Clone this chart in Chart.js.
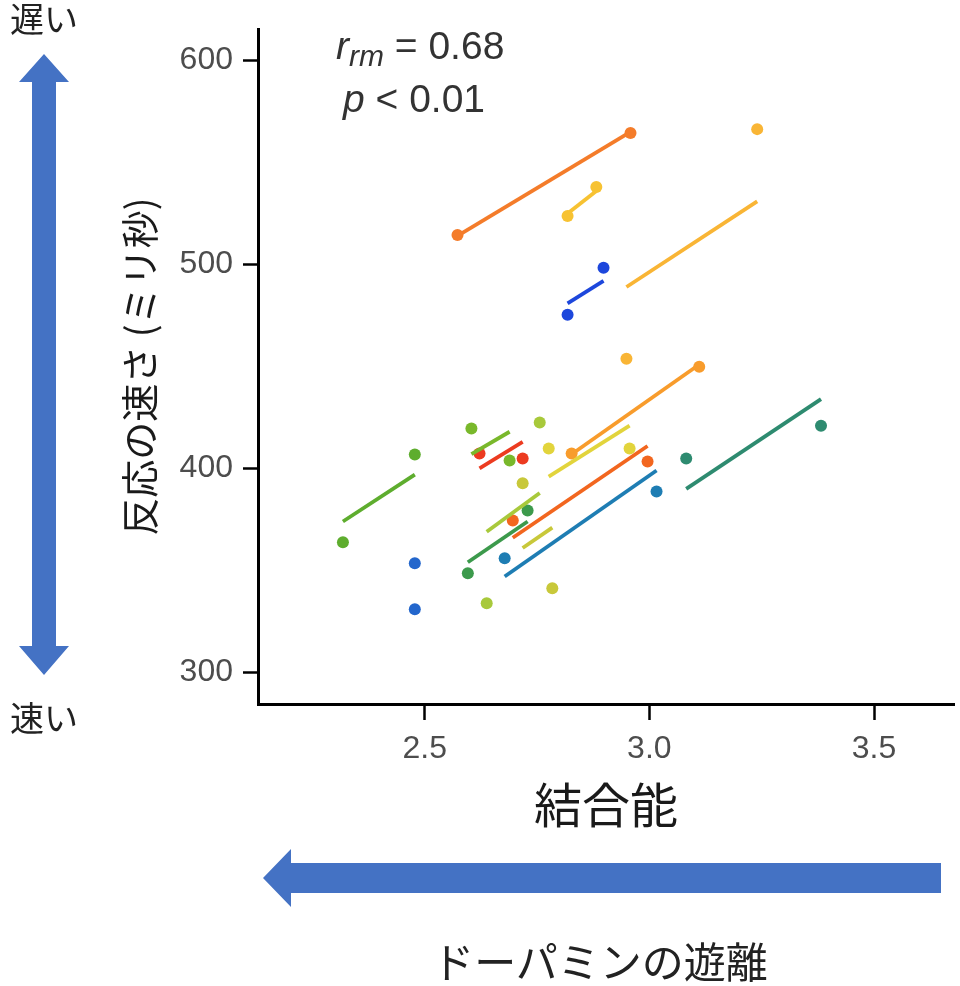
<!DOCTYPE html>
<html><head><meta charset="utf-8">
<script src="https://cdn.jsdelivr.net/npm/chart.js@4.4.1/dist/chart.umd.min.js"></script>
<style>
html,body{margin:0;padding:0;background:#fff;}
#wrap{position:relative;width:960px;height:986px;overflow:hidden;}
#c{position:absolute;left:0;top:0;}
#ov{position:absolute;left:0;top:0;}
</style></head><body>
<div id="wrap">
<canvas id="c" width="960" height="986"></canvas>
<svg id="ov" width="960" height="986" xmlns="http://www.w3.org/2000/svg">
  <polygon fill="#4472C4" points="44,54 69,82 56,82 56,646 69,646 44,675 19,646 32,646 32,82 19,82"/>
  <polygon fill="#4472C4" points="263,878 291,849 291,863 941,863 941,893 291,893 291,907"/>
  <text x="10" y="32" font-family="Noto Sans CJK JP" font-size="34" fill="#222">遅い</text>
  <text x="10" y="731" font-family="Noto Sans CJK JP" font-size="34" fill="#222">速い</text>
  <text x="600" y="978" text-anchor="middle" font-family="Noto Sans CJK JP" font-size="42" fill="#222">ドーパミンの遊離</text>
  <text x="336" y="59" font-family="Liberation Sans" font-size="39" fill="#333"><tspan font-style="italic">r</tspan><tspan font-style="italic" font-size="30" dy="7">rm</tspan><tspan dy="-7"> = 0.68</tspan></text>
  <text x="343" y="112" font-family="Liberation Sans" font-size="39" fill="#333"><tspan font-style="italic">p</tspan> &lt; 0.01</text>
</svg>
</div>
<script>
// Each subject: two measurements (x1,y1) and (x2,y2), plus its fitted rmcorr line read at x1 and x2
const subjects = ['S1','S2','S3','S4','S5','S6','S7','S8','S9','S10','S11','S12','S13','S14','S15','S16'];
const x1 = [2.573, 2.949, 2.818, 2.818, 2.318, 2.478, 2.604, 2.622, 2.638, 2.776, 2.827, 2.718, 2.696, 2.596, 2.678, 3.082];
const y1 = [514.5, 453.8, 523.8, 475.4, 363.8, 353.5, 419.6, 407.3, 333.9, 409.8, 407.3, 392.7, 374.5, 348.6, 356.0, 404.9];
const x2 = [2.958, 3.240, 2.882, 2.898, 2.478, 2.478, 2.689, 2.718, 2.756, 2.956, 3.111, 2.784, 2.996, 2.729, 3.016, 3.382];
const y2 = [564.5, 566.4, 538.0, 498.4, 406.9, 331.0, 403.9, 404.9, 422.5, 409.8, 449.9, 341.3, 403.4, 379.4, 388.7, 421.0];
const fitY1 = [514, 489, 525, 481, 374, null, 407, 400, 369, 396, 407, 361, 366, 354, 347, 390];
const fitY2 = [565, 531, 536, 492, 397, null, 418, 413, 388, 421, 451, 371, 411, 374, 399, 434];
const palette = ['#F47C2A','#F9B535','#F7C232','#1D47DC','#5EAD2E','#2366CC','#79B82B','#EC3B20','#A8C93B','#E2D43C','#F89C2C','#C8C83A','#F2661F','#3C9A4C','#1E7DB3','#2E8B70'];
const xTicks = [2.5, 3.0, 3.5];
const yTicks = [300, 400, 500, 600];
const xTitle = '結合能';
const yTitle = '反応の速さ (ミリ秒)';

const datasets = [];
subjects.forEach((s, i) => {
  datasets.push({
    label: s + ' points',
    data: [{x: x1[i], y: y1[i]}, {x: x2[i], y: y2[i]}],
    backgroundColor: palette[i],
    borderWidth: 0,
    pointRadius: 6,
    pointStyle: 'circle',
    showLine: false
  });
  if (fitY1[i] !== null) {
    datasets.push({
      label: s + ' fit',
      data: [{x: x1[i], y: fitY1[i]}, {x: x2[i], y: fitY2[i]}],
      borderColor: palette[i],
      borderWidth: 3.8,
      pointRadius: 0,
      showLine: true,
      fill: false
    });
  }
});

new Chart(document.getElementById('c'), {
  type: 'scatter',
  data: { datasets },
  options: {
    responsive: false,
    animation: false,
    layout: { padding: { left: 0, top: 28, right: 5, bottom: 152 } },
    plugins: { legend: { display: false }, tooltip: { enabled: false } },
    scales: {
      x: {
        type: 'linear', position: 'bottom',
        min: 2.129, max: 3.678,
        afterBuildTicks: s => { s.ticks = xTicks.map(v => ({ value: v })); },
        afterFit: s => { s.height = 130; },
        ticks: { callback: v => Number(v).toFixed(1), color: '#4D4D4D', font: { family: 'Liberation Sans', size: 32 }, padding: 10, maxRotation: 0 },
        grid: { drawOnChartArea: false, drawTicks: true, tickLength: 16, tickColor: '#000', tickWidth: 2.5 },
        border: { display: true, color: '#000', width: 3 },
        title: { display: true, text: xTitle, color: '#1a1a1a', font: { family: 'Noto Sans CJK JP', size: 48 }, padding: { top: 0, bottom: 0 } }
      },
      y: {
        type: 'linear', position: 'left',
        min: 284.5, max: 615.4,
        afterBuildTicks: s => { s.ticks = yTicks.map(v => ({ value: v })); },
        afterFit: s => { s.width = 258; },
        ticks: { color: '#4D4D4D', font: { family: 'Liberation Sans', size: 32 }, padding: 10 },
        grid: { drawOnChartArea: false, drawTicks: true, tickLength: 15, tickColor: '#000', tickWidth: 2.5 },
        border: { display: true, color: '#000', width: 3 },
        title: { display: true, text: yTitle, color: '#1a1a1a', font: { family: 'Noto Sans CJK JP', size: 38 }, padding: { top: 117, bottom: 0 } }
      }
    }
  }
});
</script>
</body></html>
